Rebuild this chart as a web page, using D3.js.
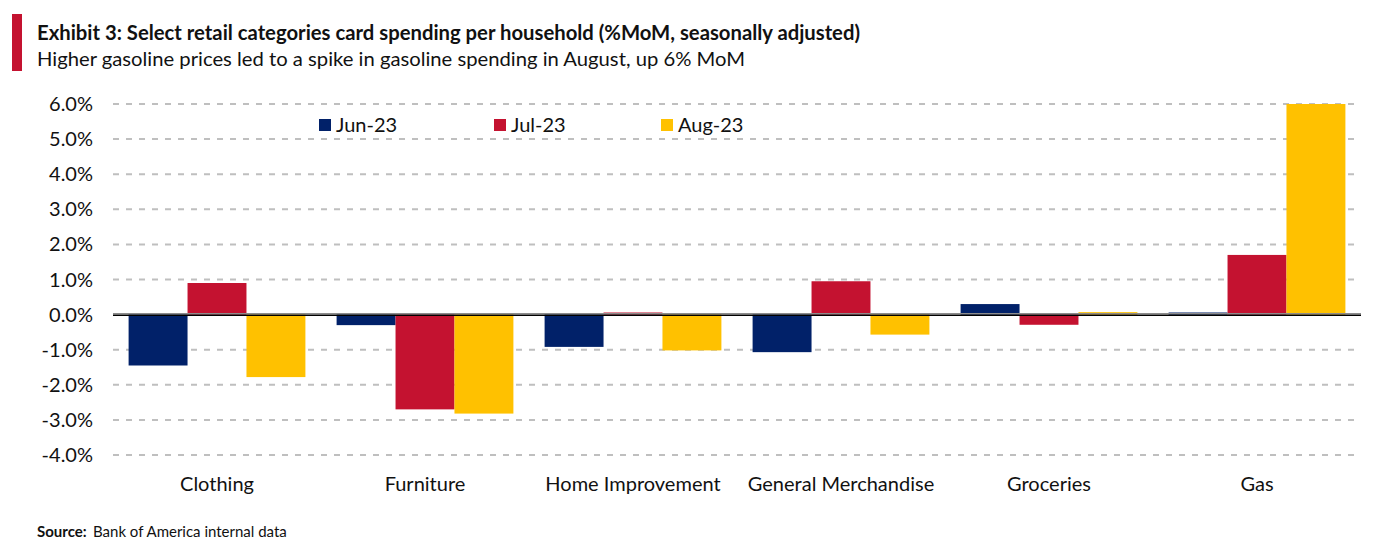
<!DOCTYPE html>
<html>
<head>
<meta charset="utf-8">
<script src="https://cdn.jsdelivr.net/npm/d3@7"></script>
<style>
  body { margin: 0; background: #fff; }
  text { font-family: Lato, "Open Sans", sans-serif; fill: #111; }
  .title { font-size: 20px; font-weight: bold; }
  .subtitle { font-size: 20px; }
  .tick-label { font-size: 20px; }
  .cat-label { font-size: 20px; }
  .legend { font-size: 20px; }
  .source { font-size: 15px; }
</style>
</head>
<body>
<div id="chart"></div>
<script>
var categories = ["Clothing", "Furniture", "Home Improvement", "General Merchandise", "Groceries", "Gas"];
var seriesNames = ["Jun-23", "Jul-23", "Aug-23"];
var jun23 = [-1.45, -0.3, -0.92, -1.07, 0.3, 0.06];
var jul23 = [0.9, -2.7, 0.06, 0.95, -0.29, 1.7];
var aug23 = [-1.78, -2.82, -1.02, -0.57, 0.07, 6.0];
var yTicks = [6, 5, 4, 3, 2, 1, 0, -1, -2, -3, -4];
var colors = ["#012169", "#C41230", "#FFC100"];

var seriesValues = [jun23, jul23, aug23];

var width = 1390, height = 554;
var margin = { top: 104, right: 29, bottom: 99, left: 113 };

var svg = d3.select("#chart")
  .append("svg")
  .attr("width", width)
  .attr("height", height);

// title block
svg.append("rect")
  .attr("x", 12).attr("y", 14)
  .attr("width", 10).attr("height", 57)
  .attr("fill", "#C41230");

svg.append("text")
  .attr("class", "title")
  .attr("x", 37).attr("y", 40)
  .attr("textLength", 823)
  .attr("lengthAdjust", "spacingAndGlyphs")
  .text("Exhibit 3: Select retail categories card spending per household (%MoM, seasonally adjusted)");

svg.append("text")
  .attr("class", "subtitle")
  .attr("x", 37).attr("y", 66)
  .attr("textLength", 708)
  .attr("lengthAdjust", "spacingAndGlyphs")
  .text("Higher gasoline prices led to a spike in gasoline spending in August, up 6% MoM");

// scales
var x0 = d3.scaleBand()
  .domain(categories)
  .range([margin.left, width - margin.right])
  .paddingInner(0.15)
  .paddingOuter(0.075);

var x1 = d3.scaleBand()
  .domain(seriesNames)
  .range([0, x0.bandwidth()]);

var y = d3.scaleLinear()
  .domain([-4, 6])
  .range([height - margin.bottom, margin.top]);

// gridlines
svg.append("g")
  .selectAll("line")
  .data(yTicks.filter(function(t) { return t !== 0; }))
  .enter()
  .append("line")
  .attr("x1", margin.left)
  .attr("x2", width - margin.right)
  .attr("y1", function(d) { return y(d); })
  .attr("y2", function(d) { return y(d); })
  .attr("stroke", "#bfbfbf")
  .attr("stroke-width", 2)
  .attr("stroke-dasharray", "6,7");

// y tick labels
svg.append("g")
  .selectAll("text")
  .data(yTicks)
  .enter()
  .append("text")
  .attr("class", "tick-label")
  .attr("x", 93)
  .attr("y", function(d) { return y(d) + 7; })
  .attr("text-anchor", "end")
  .text(function(d) { return d.toFixed(1) + "%"; });

// bars
var groups = svg.append("g")
  .selectAll("g")
  .data(categories)
  .enter()
  .append("g")
  .attr("transform", function(d) { return "translate(" + x0(d) + ",0)"; });

groups.selectAll("rect")
  .data(function(d, i) {
    return seriesNames.map(function(s, j) {
      return { series: s, value: seriesValues[j][i], color: colors[j] };
    });
  })
  .enter()
  .append("rect")
  .attr("x", function(d) { return x1(d.series); })
  .attr("width", x1.bandwidth())
  .attr("y", function(d) { return y(Math.max(0, d.value)); })
  .attr("height", function(d) { return Math.abs(y(d.value) - y(0)); })
  .attr("fill", function(d) { return d.color; });

// zero line
svg.append("line")
  .attr("x1", margin.left).attr("x2", width - margin.right)
  .attr("y1", y(0) - 1).attr("y2", y(0) - 1)
  .attr("stroke", "#8c8c8c").attr("stroke-width", 1.2);
svg.append("line")
  .attr("x1", margin.left).attr("x2", width - margin.right)
  .attr("y1", y(0) + 0.6).attr("y2", y(0) + 0.6)
  .attr("stroke", "#000").attr("stroke-width", 1.4);

// category labels
svg.append("g")
  .selectAll("text")
  .data(categories)
  .enter()
  .append("text")
  .attr("class", "cat-label")
  .attr("x", function(d) { return x0(d) + x0.bandwidth() / 2; })
  .attr("y", 491)
  .attr("text-anchor", "middle")
  .text(function(d) { return d; });

// legend
var legendX = [319, 494, 661];
var legend = svg.append("g")
  .selectAll("g")
  .data(seriesNames)
  .enter()
  .append("g")
  .attr("transform", function(d, i) { return "translate(" + legendX[i] + ",119)"; });

legend.append("rect")
  .attr("width", 12).attr("height", 12)
  .attr("fill", function(d, i) { return colors[i]; });

legend.append("text")
  .attr("class", "legend")
  .attr("x", 17).attr("y", 13)
  .text(function(d) { return d; });

// source
svg.append("text")
  .attr("class", "source")
  .attr("x", 37).attr("y", 537)
  .attr("font-weight", "bold")
  .text("Source:");
svg.append("text")
  .attr("class", "source")
  .attr("x", 93).attr("y", 537)
  .text("Bank of America internal data");
</script>
</body>
</html>
